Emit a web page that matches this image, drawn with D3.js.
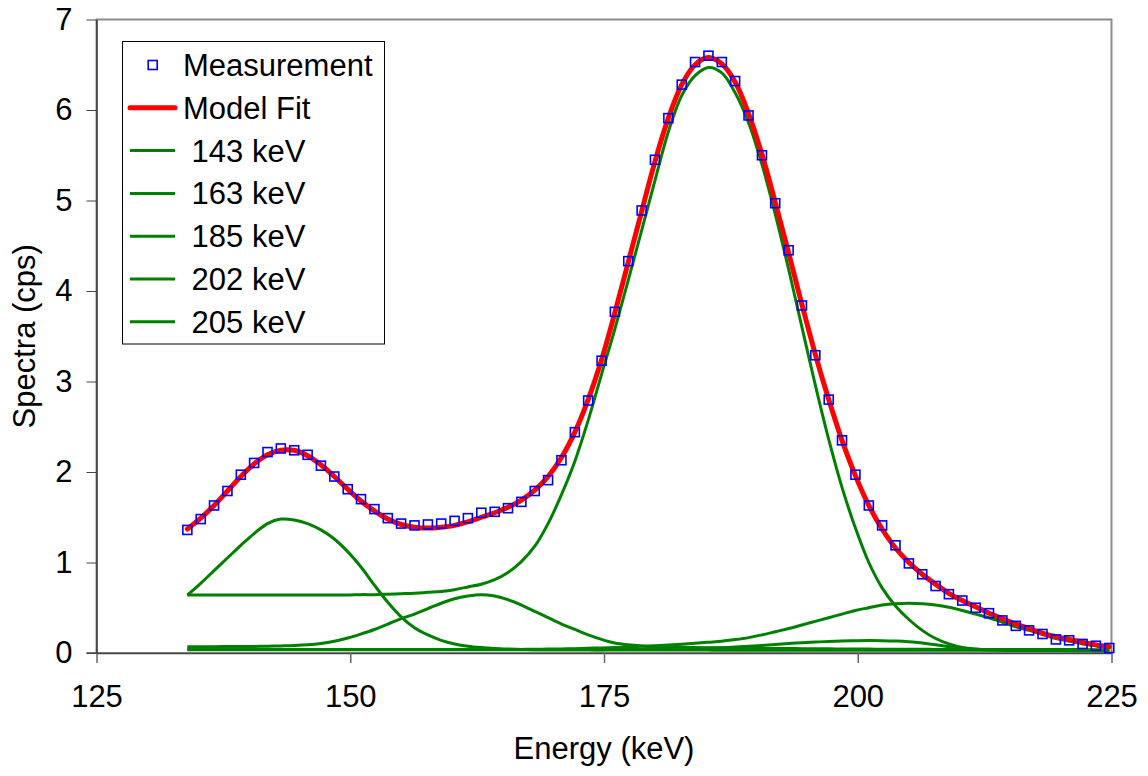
<!DOCTYPE html>
<html>
<head>
<meta charset="utf-8">
<script src="https://cdn.jsdelivr.net/npm/d3@7"></script>
<style>
  body { margin: 0; background: #fff; }
  svg text { font-family: "Liberation Sans", Arial, sans-serif; fill: #000; }
</style>
</head>
<body>
<svg id="chart" width="1148" height="776"></svg>
<script>
// energy channels (keV) shared by all series
const energy = [
  133.95, 135.27, 136.58, 137.90, 139.22, 140.53, 141.85, 143.16, 144.48, 145.80,
  147.11, 148.43, 149.75, 151.06, 152.38, 153.70, 155.01, 156.33, 157.65, 158.96,
  160.28, 161.59, 162.91, 164.23, 165.54, 166.86, 168.18, 169.49, 170.81, 172.13,
  173.44, 174.76, 176.07, 177.39, 178.71, 180.02, 181.34, 182.66, 183.97, 185.29,
  186.61, 187.92, 189.24, 190.56, 191.87, 193.19, 194.50, 195.82, 197.14, 198.45,
  199.77, 201.09, 202.40, 203.72, 205.04, 206.35, 207.67, 208.98, 210.30, 211.62,
  212.93, 214.25, 215.57, 216.88, 218.20, 219.52, 220.83, 222.15, 223.46, 224.78
];

const measurement = [
  1.36, 1.48, 1.63, 1.79, 1.97, 2.10, 2.22, 2.26, 2.24, 2.19,
  2.07, 1.95, 1.81, 1.70, 1.59, 1.49, 1.43, 1.41, 1.42, 1.43,
  1.46, 1.49, 1.55, 1.56, 1.60, 1.67, 1.79, 1.91, 2.13, 2.44,
  2.79, 3.23, 3.77, 4.33, 4.89, 5.45, 5.91, 6.28, 6.53, 6.60,
  6.53, 6.32, 5.94, 5.50, 4.97, 4.45, 3.84, 3.29, 2.80, 2.35,
  1.97, 1.63, 1.41, 1.19, 0.99, 0.87, 0.74, 0.65, 0.58, 0.50,
  0.44, 0.36, 0.30, 0.25, 0.21, 0.15, 0.14, 0.10, 0.08, 0.055
];

const modelFit = [
  1.37, 1.49, 1.63, 1.79, 1.95, 2.09, 2.19, 2.24, 2.24, 2.18,
  2.08, 1.95, 1.81, 1.68, 1.57, 1.48, 1.42, 1.39, 1.38, 1.39,
  1.41, 1.45, 1.50, 1.55, 1.61, 1.69, 1.80, 1.95, 2.16, 2.44,
  2.80, 3.24, 3.76, 4.32, 4.88, 5.43, 5.91, 6.28, 6.50, 6.58,
  6.51, 6.31, 5.96, 5.51, 4.98, 4.42, 3.85, 3.30, 2.80, 2.35,
  1.96, 1.63, 1.37, 1.16, 1.00, 0.87, 0.76, 0.66, 0.58, 0.51,
  0.44, 0.38, 0.32, 0.27, 0.22, 0.18, 0.15, 0.12, 0.09, 0.07
];

const peak143 = [
  0.64, 0.77, 0.91, 1.05, 1.19, 1.32, 1.43, 1.48, 1.47, 1.43,
  1.36, 1.26, 1.12, 0.95, 0.75, 0.56, 0.40, 0.28, 0.20, 0.14,
  0.10, 0.075, 0.06, 0.05, 0.044, 0.040, 0.037, 0.035, 0.035, 0.035,
  0.035, 0.034, 0.034, 0.033, 0.033, 0.033, 0.032, 0.032, 0.032, 0.032,
  0.031, 0.031, 0.031, 0.031, 0.031, 0.030, 0.030, 0.030, 0.030, 0.030,
  0.030, 0.030, 0.030, 0.030, 0.030, 0.030, 0.030, 0.030, 0.030, 0.030,
  0.030, 0.030, 0.030, 0.030, 0.030, 0.030, 0.030, 0.030, 0.030, 0.030
];

const peak163 = [
  0.070, 0.070, 0.070, 0.071, 0.072, 0.073, 0.075, 0.078, 0.082, 0.090,
  0.105, 0.13, 0.165, 0.21, 0.26, 0.32, 0.38, 0.43, 0.49, 0.55,
  0.60, 0.63, 0.645, 0.63, 0.59, 0.53, 0.46, 0.39, 0.32, 0.26,
  0.20, 0.15, 0.11, 0.09, 0.078, 0.070, 0.066, 0.063, 0.060, 0.058,
  0.056, 0.054, 0.052, 0.051, 0.050, 0.049, 0.048, 0.047, 0.046, 0.045,
  0.044, 0.043, 0.042, 0.042, 0.041, 0.041, 0.040, 0.040, 0.040, 0.040,
  0.039, 0.039, 0.039, 0.038, 0.038, 0.038, 0.038, 0.037, 0.037, 0.037
];

const peak185 = [
  0.64, 0.64, 0.64, 0.64, 0.64, 0.64, 0.64, 0.64, 0.64, 0.64,
  0.64, 0.64, 0.64, 0.645, 0.645, 0.65, 0.655, 0.66, 0.67, 0.68,
  0.70, 0.73, 0.76, 0.81, 0.89, 1.01, 1.18, 1.43, 1.75, 2.12,
  2.57, 3.08, 3.58, 4.12, 4.67, 5.22, 5.76, 6.16, 6.38, 6.47,
  6.41, 6.19, 5.86, 5.40, 4.85, 4.24, 3.60, 2.96, 2.36, 1.83,
  1.38, 1.00, 0.72, 0.52, 0.37, 0.25, 0.16, 0.10, 0.06, 0.043,
  0.035, 0.032, 0.030, 0.030, 0.028, 0.028, 0.027, 0.027, 0.026, 0.026
];

const peak202 = [
  0.035, 0.035, 0.035, 0.035, 0.035, 0.035, 0.035, 0.035, 0.035, 0.035,
  0.035, 0.035, 0.035, 0.035, 0.035, 0.035, 0.035, 0.035, 0.035, 0.035,
  0.035, 0.035, 0.035, 0.035, 0.035, 0.035, 0.035, 0.035, 0.035, 0.035,
  0.036, 0.037, 0.038, 0.039, 0.040, 0.042, 0.044, 0.046, 0.049, 0.053,
  0.058, 0.065, 0.074, 0.084, 0.095, 0.105, 0.114, 0.121, 0.127, 0.132,
  0.135, 0.137, 0.136, 0.132, 0.124, 0.110, 0.090, 0.070, 0.052, 0.042,
  0.036, 0.032, 0.030, 0.029, 0.028, 0.027, 0.026, 0.026, 0.025, 0.025
];

const peak205 = [
  0.038, 0.038, 0.038, 0.038, 0.038, 0.038, 0.038, 0.038, 0.038, 0.038,
  0.038, 0.038, 0.038, 0.038, 0.038, 0.038, 0.038, 0.038, 0.038, 0.038,
  0.038, 0.038, 0.038, 0.038, 0.039, 0.040, 0.041, 0.043, 0.045, 0.048,
  0.052, 0.056, 0.061, 0.067, 0.074, 0.081, 0.089, 0.098, 0.108, 0.119,
  0.13, 0.148, 0.17, 0.20, 0.235, 0.27, 0.31, 0.35, 0.39, 0.43,
  0.47, 0.50, 0.53, 0.545, 0.55, 0.545, 0.53, 0.505, 0.47, 0.43,
  0.39, 0.34, 0.29, 0.25, 0.205, 0.16, 0.13, 0.10, 0.08, 0.055
];

const peaks = [peak143, peak163, peak185, peak202, peak205];
const peakLabels = [" 143 keV", " 163 keV", " 185 keV", " 202 keV", " 205 keV"];

const xTicks = [125, 150, 175, 200, 225];
const yTicks = [0, 1, 2, 3, 4, 5, 6, 7];

const BLUE = "#0000ff";
const RED = "#ff0000";
const GREEN = "#008000";
const FONT = 31;

const plotLeft = 96.5, plotRight = 1111.5, plotTop = 19.5, plotBottom = 653;

const svg = d3.select("#chart");

const x = d3.scaleLinear().domain([125, 225]).range([plotLeft, plotRight]);
const y = d3.scaleLinear().domain([0, 7]).range([plotBottom, plotTop]);

// plot frame (grey top/right)
svg.append("rect")
  .attr("x", plotLeft).attr("y", plotTop)
  .attr("width", plotRight - plotLeft).attr("height", plotBottom - plotTop)
  .attr("fill", "none")
  .attr("stroke", "#8c8c8c")
  .attr("stroke-width", 2);

// axes
const xAxis = svg.append("g")
  .attr("transform", `translate(0,${plotBottom})`)
  .call(d3.axisBottom(x).tickValues(xTicks).tickFormat(d3.format("d"))
    .tickSize(10).tickSizeOuter(0).tickPadding(22));
xAxis.select(".domain").attr("stroke", "#444").attr("stroke-width", 1.5);
xAxis.selectAll(".tick line").attr("stroke", "#666").attr("stroke-width", 1.5);
xAxis.selectAll(".tick text")
  .attr("font-size", FONT)
  .attr("font-family", "Liberation Sans, Arial, sans-serif");

const yAxis = svg.append("g")
  .attr("transform", `translate(${plotLeft},0)`)
  .call(d3.axisLeft(y).tickValues(yTicks).tickFormat(d3.format("d"))
    .tickSize(10).tickSizeOuter(0).tickPadding(14));
yAxis.select(".domain").attr("stroke", "#000").attr("stroke-width", 1);
yAxis.selectAll(".tick line").attr("stroke", "#444").attr("stroke-width", 1);
yAxis.selectAll(".tick text")
  .attr("font-size", FONT)
  .attr("font-family", "Liberation Sans, Arial, sans-serif");

// extend bottom axis line left to meet the 0 tick
svg.append("line")
  .attr("x1", plotLeft - 10).attr("x2", plotLeft)
  .attr("y1", plotBottom).attr("y2", plotBottom)
  .attr("stroke", "#444").attr("stroke-width", 1.5);

// axis titles
svg.append("text")
  .attr("x", (plotLeft + plotRight) / 2)
  .attr("y", 759)
  .attr("text-anchor", "middle")
  .attr("font-size", FONT)
  .text("Energy (keV)");

svg.append("text")
  .attr("transform", `translate(35,${(plotTop + plotBottom) / 2}) rotate(-90)`)
  .attr("text-anchor", "middle")
  .attr("font-size", FONT)
  .text("Spectra (cps)");

// series
const line = d3.line()
  .x((d, i) => x(energy[i]))
  .y(d => y(d))
  .curve(d3.curveCatmullRom);

peaks.forEach(p => {
  svg.append("path")
    .datum(p)
    .attr("d", line)
    .attr("fill", "none")
    .attr("stroke", GREEN)
    .attr("stroke-width", 3);
});

svg.append("path")
  .datum(modelFit)
  .attr("d", line)
  .attr("fill", "none")
  .attr("stroke", RED)
  .attr("stroke-width", 5)
  .attr("stroke-linecap", "round");

svg.selectAll(".meas")
  .data(measurement)
  .enter()
  .append("rect")
  .attr("class", "meas")
  .attr("x", (d, i) => x(energy[i]) - 4.5)
  .attr("y", d => y(d) - 4.5)
  .attr("width", 9)
  .attr("height", 9)
  .attr("fill", "none")
  .attr("stroke", BLUE)
  .attr("stroke-width", 1.6);

// legend
const legend = svg.append("g");
legend.append("rect")
  .attr("x", 122.5).attr("y", 41.5)
  .attr("width", 262).attr("height", 302.5)
  .attr("fill", "#fff")
  .attr("stroke", "#000")
  .attr("stroke-width", 1);

const rowY = i => 65 + i * 42.8;

legend.append("rect")
  .attr("x", 152.7 - 4.5).attr("y", rowY(0) - 4.5)
  .attr("width", 9).attr("height", 9)
  .attr("fill", "none")
  .attr("stroke", BLUE)
  .attr("stroke-width", 1.6);
legend.append("text")
  .attr("x", 183).attr("y", rowY(0) + 11)
  .attr("font-size", FONT)
  .text("Measurement");

legend.append("line")
  .attr("x1", 130).attr("x2", 175)
  .attr("y1", rowY(1)).attr("y2", rowY(1))
  .attr("stroke", RED).attr("stroke-width", 5)
  .attr("stroke-linecap", "round");
legend.append("text")
  .attr("x", 183).attr("y", rowY(1) + 11)
  .attr("font-size", FONT)
  .text("Model Fit");

peakLabels.forEach((lab, k) => {
  const yy = rowY(k + 2);
  legend.append("line")
    .attr("x1", 130).attr("x2", 175)
    .attr("y1", yy).attr("y2", yy)
    .attr("stroke", GREEN).attr("stroke-width", 3);
  legend.append("text")
    .attr("x", 183).attr("y", yy + 11)
    .attr("font-size", FONT)
    .style("white-space", "pre")
    .text(lab);
});
</script>
</body>
</html>
